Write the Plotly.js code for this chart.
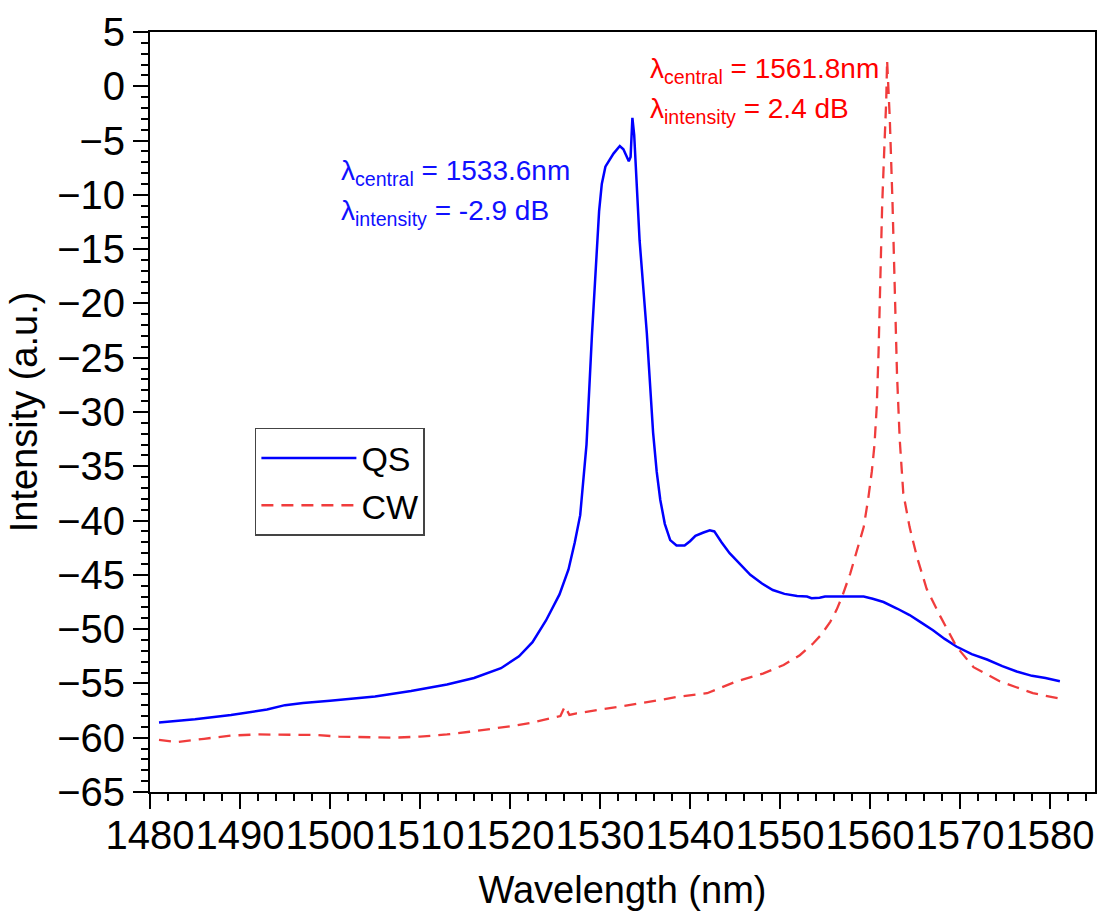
<!DOCTYPE html>
<html>
<head>
<meta charset="utf-8">
<script src="https://cdn.plot.ly/plotly-3.0.1.min.js"></script>
<style>
  html, body { margin: 0; padding: 0; background: #ffffff; }
  #chart { width: 1098px; height: 924px; }
</style>
</head>
<body>
<div id="chart"></div>
<script>
// Q-switched (QS) output spectrum
const qsWavelength = [
  1481, 1485, 1489, 1493, 1495, 1497, 1500, 1505, 1509, 1513, 1516, 1519, 1521, 1522.5,
  1524, 1525.5, 1526.5, 1527.2, 1527.8, 1528.5, 1529.1, 1529.6, 1529.9, 1530.2, 1530.6, 1531.5,
  1532.2, 1532.6, 1533.2, 1533.4, 1533.6, 1533.8, 1534.0, 1534.4, 1535.2, 1535.9, 1536.3,
  1536.7, 1537.2, 1537.8, 1538.5, 1539.4, 1540.0, 1540.6, 1541.5, 1542.2, 1542.7, 1543.5,
  1544.4, 1545.5, 1546.7, 1548, 1549.2, 1550.5, 1551.9, 1553, 1553.5, 1554.4, 1555, 1557,
  1559.3, 1560.3, 1561.5, 1563, 1564.4, 1565.7, 1567.0, 1568.3, 1569.6, 1571.3, 1573.0,
  1574.7, 1576.3, 1578, 1579.5, 1581.1
];
const qsIntensity = [
  -58.6, -58.3, -57.9, -57.4, -57.0, -56.8, -56.6, -56.2, -55.7, -55.1, -54.5, -53.6, -52.5, -51.2,
  -49.2, -46.8, -44.5, -42.0, -39.5, -33.0, -23.0, -15.0, -11.5, -9.0, -7.4, -6.2,
  -5.5, -5.8, -6.9, -6.5, -2.9, -4.5, -7.4, -14.2, -22.7, -31.9, -35.5,
  -38.1, -40.3, -41.8, -42.3, -42.3, -41.9, -41.4, -41.1, -40.9, -41.0, -42.0,
  -43.0, -44.0, -45.0, -45.8, -46.4, -46.75, -46.95, -47.0, -47.15, -47.1, -47.0, -47.0,
  -47.0, -47.2, -47.5, -48.1, -48.7, -49.4, -50.1, -50.9, -51.6, -52.3, -52.8,
  -53.4, -53.9, -54.3, -54.5, -54.8
];

// Continuous-wave (CW) output spectrum
const cwWavelength = [
  1481, 1483, 1486, 1489, 1492, 1495, 1498.5, 1501, 1504, 1507, 1510, 1513, 1515.5, 1518,
  1520.5, 1522.5, 1524.5, 1525.6, 1526.1, 1526.6, 1527.4, 1530, 1532.5, 1535.4, 1538.9,
  1541.9, 1543.5, 1545.2, 1548.1, 1550.4, 1552.2, 1553.7, 1554.6, 1555.6, 1556.3, 1556.9,
  1557.8, 1558.5, 1559.3, 1559.8, 1560.2, 1560.5, 1560.75, 1560.95, 1561.15, 1561.35, 1561.6,
  1561.8, 1561.9, 1562.05, 1562.2, 1562.5, 1562.8, 1563.0, 1563.3, 1563.7, 1564.4, 1565.2,
  1566.3, 1567.8, 1569.6, 1571.5, 1574.4, 1578.1, 1581.1
];
const cwIntensity = [
  -60.2, -60.4, -60.1, -59.8, -59.7, -59.7, -59.75, -59.9, -59.95, -60.0, -59.9, -59.7, -59.45, -59.2,
  -58.9, -58.6, -58.2, -58.0, -57.1, -57.9, -57.75, -57.45, -57.1, -56.7, -56.2,
  -55.9, -55.4, -54.8, -54.1, -53.3, -52.4, -51.3, -50.5, -49.3, -48.2, -47.0,
  -44.9, -43.0, -40.6, -38.0, -35.5, -33.0, -29.5, -24.5, -17.5, -11.0, -5.5,
  -1.4, 2.4, 0.0, -3.0, -10.7, -20.1, -26.5, -32.5, -37.5, -40.6, -43.3,
  -46.3, -48.8, -51.6, -53.5, -54.8, -55.9, -56.4
];

const xTickValues = [1480, 1490, 1500, 1510, 1520, 1530, 1540, 1550, 1560, 1570, 1580];
const yTickValues = [5, 0, -5, -10, -15, -20, -25, -30, -35, -40, -45, -50, -55, -60, -65];

const baseFont = 'Liberation Sans, Arial, sans-serif';

const traces = [
  {
    x: qsWavelength, y: qsIntensity, name: 'QS', type: 'scatter', mode: 'lines',
    line: { color: '#0000ff', width: 2.5 }
  },
  {
    x: cwWavelength, y: cwIntensity, name: 'CW', type: 'scatter', mode: 'lines',
    line: { color: '#f03c3c', width: 2.3, dash: '12px,8px' }
  }
];

const axisCommon = {
  showgrid: false,
  zeroline: false,
  showline: true,
  mirror: true,
  linecolor: '#000000',
  linewidth: 2,
  ticks: 'outside',
  ticklen: 15,
  tickwidth: 2,
  tickcolor: '#000000',
  tickangle: 0,
  tickfont: { family: baseFont, size: 40, color: '#000000' },
  minor: { ticks: 'outside', ticklen: 7, tickwidth: 2, tickcolor: '#000000', showgrid: false }
};

const layout = {
  width: 1098,
  height: 924,
  margin: { l: 150, r: 3, t: 32, b: 132 },
  paper_bgcolor: '#ffffff',
  plot_bgcolor: '#ffffff',
  font: { family: baseFont, color: '#000000' },
  xaxis: Object.assign({}, axisCommon, {
    range: [1480, 1585],
    tickmode: 'array',
    tickvals: xTickValues,
    ticktext: xTickValues.map(String),
    ticklabelstandoff: -8,
    minor: Object.assign({}, axisCommon.minor, { dtick: 2, tick0: 1480 }),
    title: { text: 'Wavelength (nm)', font: { family: baseFont, size: 38, color: '#000000' }, standoff: 20 }
  }),
  yaxis: Object.assign({}, axisCommon, {
    range: [-65, 5],
    tickmode: 'array',
    tickvals: yTickValues,
    minor: Object.assign({}, axisCommon.minor, { dtick: 1, tick0: 0 }),
    title: { text: 'Intensity (a.u.)', font: { family: baseFont, size: 38, color: '#000000' }, standoff: 8 }
  }),
  showlegend: true,
  legend: {
    x: 0.111, y: 0.479, xanchor: 'left', yanchor: 'top',
    bgcolor: '#ffffff',
    bordercolor: '#444444',
    borderwidth: 1.5,
    font: { family: baseFont, size: 34, color: '#000000' },
    itemwidth: 95,
    tracegroupgap: 0
  },
  annotations: [
    { x: 1501, y: -7.9, xref: 'x', yref: 'y', xanchor: 'left', yanchor: 'middle', showarrow: false,
      text: 'λ<sub>central</sub> = 1533.6nm', font: { family: baseFont, size: 28, color: '#1010ff' } },
    { x: 1501, y: -11.6, xref: 'x', yref: 'y', xanchor: 'left', yanchor: 'middle', showarrow: false,
      text: 'λ<sub>intensity</sub> = -2.9 dB', font: { family: baseFont, size: 28, color: '#1010ff' } },
    { x: 1535.3, y: 1.5, xref: 'x', yref: 'y', xanchor: 'left', yanchor: 'middle', showarrow: false,
      text: 'λ<sub>central</sub> = 1561.8nm', font: { family: baseFont, size: 28, color: '#ff0000' } },
    { x: 1535.3, y: -2.2, xref: 'x', yref: 'y', xanchor: 'left', yanchor: 'middle', showarrow: false,
      text: 'λ<sub>intensity</sub> = 2.4 dB', font: { family: baseFont, size: 28, color: '#ff0000' } }
  ]
};

Plotly.newPlot('chart', traces, layout, { staticPlot: true, displayModeBar: false });
</script>
</body>
</html>
